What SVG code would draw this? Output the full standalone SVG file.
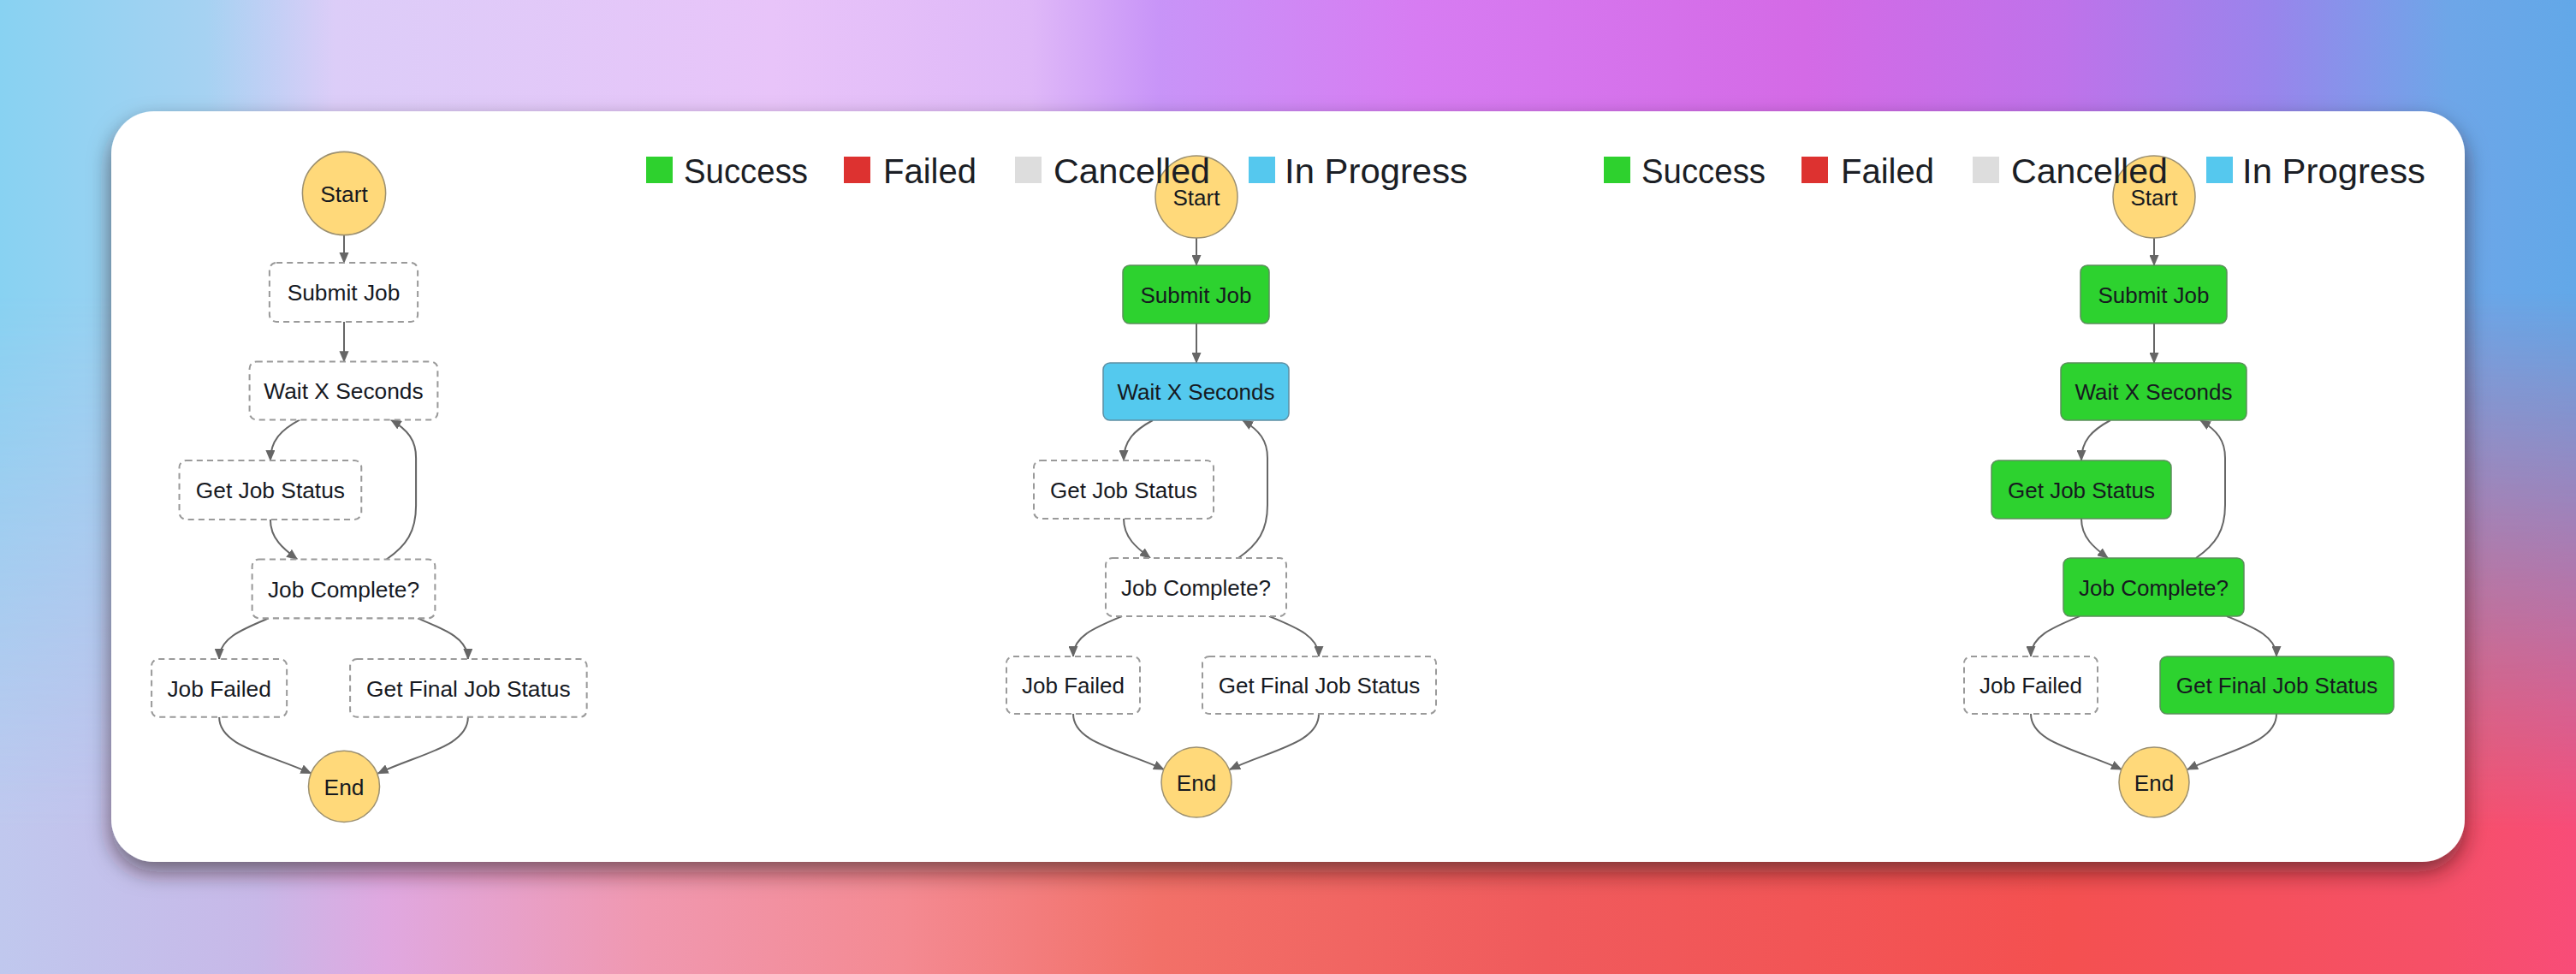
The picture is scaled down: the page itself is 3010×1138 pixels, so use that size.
<svg xmlns="http://www.w3.org/2000/svg" width="3010" height="1138" viewBox="0 0 3010 1138">
<defs>
  <linearGradient id="bgTop" x1="0" y1="0" x2="1" y2="0">
    <stop offset="0" stop-color="#88d2f2"/>
    <stop offset="0.08" stop-color="#a6d2f2"/>
    <stop offset="0.13" stop-color="#dccdf8"/>
    <stop offset="0.3" stop-color="#e8c4f9"/>
    <stop offset="0.4" stop-color="#dfb8f8"/>
    <stop offset="0.45" stop-color="#c894f8"/>
    <stop offset="0.55" stop-color="#d77cf2"/>
    <stop offset="0.7" stop-color="#d46ae6"/>
    <stop offset="0.8" stop-color="#bf72ea"/>
    <stop offset="0.88" stop-color="#9a84ec"/>
    <stop offset="0.95" stop-color="#6ea6e8"/>
    <stop offset="1" stop-color="#62a8e8"/>
  </linearGradient>
  <linearGradient id="bgBot" x1="0" y1="0" x2="1" y2="0">
    <stop offset="0" stop-color="#c0c8ee"/>
    <stop offset="0.1" stop-color="#c8b8e8"/>
    <stop offset="0.15" stop-color="#e0a8e0"/>
    <stop offset="0.25" stop-color="#f098b0"/>
    <stop offset="0.35" stop-color="#f48a92"/>
    <stop offset="0.45" stop-color="#f27068"/>
    <stop offset="0.6" stop-color="#f05a5c"/>
    <stop offset="0.8" stop-color="#f45050"/>
    <stop offset="0.95" stop-color="#f65068"/>
    <stop offset="1" stop-color="#f84c78"/>
  </linearGradient>
  <linearGradient id="fadeV" x1="0" y1="0" x2="0" y2="1">
    <stop offset="0.3" stop-color="#fff" stop-opacity="0"/>
    <stop offset="0.85" stop-color="#fff" stop-opacity="1"/>
  </linearGradient>
  <mask id="botMask">
    <rect x="0" y="0" width="3010" height="1138" fill="url(#fadeV)"/>
  </mask>
  <filter id="shadow" x="-5%" y="-10%" width="110%" height="130%">
    <feDropShadow dx="0" dy="12" stdDeviation="13" flood-color="#2a0a10" flood-opacity="0.55"/>
  </filter>
  <marker id="arr" markerWidth="13" markerHeight="11" refX="12" refY="5.5" orient="auto" markerUnits="userSpaceOnUse">
    <path d="M0,0 L13,5.5 L0,11 z" fill="#666"/>
  </marker>
  <style>
    .dash { fill:#fff; stroke:#9a9a9a; stroke-width:2; stroke-dasharray:7 5; }
    .ok { fill:#2dd22f; stroke:#5b8f5b; stroke-width:1.5; }
    .prog { fill:#54c9ee; stroke:#5e8fa3; stroke-width:1.5; }
    .term { fill:#ffd97a; stroke:#9c9070; stroke-width:1.5; }
    .lbl { font-family:"Liberation Sans",Arial,sans-serif; font-size:26px; fill:#16191f; text-anchor:middle; }
    .edge { fill:none; stroke:#666; stroke-width:2; marker-end:url(#arr); }
    .leg { font-family:"Liberation Sans",Arial,sans-serif; font-size:40px; fill:#1b1e25; }
  </style>
</defs>

<rect x="0" y="0" width="3010" height="1138" fill="url(#bgTop)"/>
<rect x="0" y="0" width="3010" height="1138" fill="url(#bgBot)" mask="url(#botMask)"/>

<rect id="card" x="130" y="130" width="2750" height="877" rx="50" ry="50" fill="#fff" filter="url(#shadow)"/>

<!-- Left graph -->
<g id="graph-left" transform="matrix(1.013 0 0 1.013 -1014.17 -6.99)">
  <g id="left-connectors">
    <path class="edge" d="M1398,278 L1398,310"/>
    <path class="edge" d="M1398,378 L1398,424"/>
    <path class="edge" d="M1347,491 C1325,503 1313,515 1313,538"/>
    <path class="edge" d="M1313,606 C1313,628 1328,640 1344,652"/>
    <path class="edge" d="M1447,652 C1470,636 1481,620 1481,590 L1481,535 C1481,515 1472,503 1452,491"/>
    <path class="edge" d="M1311,720 C1280,733 1254,743 1254,767"/>
    <path class="edge" d="M1483,720 C1514,733 1541,743 1541,767"/>
    <path class="edge" d="M1254,834 C1254,868 1310,876 1360,899"/>
    <path class="edge" d="M1541,834 C1541,868 1486,876 1437,899"/>
  </g>
  <g id="left-start"><circle class="term" cx="1398" cy="230" r="48"/><text class="lbl" x="1398" y="239.5">Start</text></g>
  <g id="left-submit"><rect class="dash" x="1312" y="310" width="171" height="68" rx="8"/><text class="lbl" x="1397.5" y="353.5">Submit Job</text></g>
  <g id="left-wait"><rect class="dash" x="1289" y="424" width="217" height="67" rx="8"/><text class="lbl" x="1397.5" y="467">Wait X Seconds</text></g>
  <g id="left-getstatus"><rect class="dash" x="1208" y="538" width="210" height="68" rx="8"/><text class="lbl" x="1313" y="581.5">Get Job Status</text></g>
  <g id="left-complete"><rect class="dash" x="1292" y="652" width="211" height="68" rx="8"/><text class="lbl" x="1397.5" y="695.5">Job Complete?</text></g>
  <g id="left-failed"><rect class="dash" x="1176" y="767" width="156" height="67" rx="8"/><text class="lbl" x="1254" y="810">Job Failed</text></g>
  <g id="left-final"><rect class="dash" x="1405" y="767" width="273" height="67" rx="8"/><text class="lbl" x="1541.5" y="810">Get Final Job Status</text></g>
  <g id="left-end"><circle class="term" cx="1398" cy="914" r="41"/><text class="lbl" x="1398" y="923.5">End</text></g>
</g>

<!-- Middle graph -->
<g id="graph-middle">
  <g id="mid-connectors">
    <path class="edge" d="M1398,278 L1398,310"/>
    <path class="edge" d="M1398,378 L1398,424"/>
    <path class="edge" d="M1347,491 C1325,503 1313,515 1313,538"/>
    <path class="edge" d="M1313,606 C1313,628 1328,640 1344,652"/>
    <path class="edge" d="M1447,652 C1470,636 1481,620 1481,590 L1481,535 C1481,515 1472,503 1452,491"/>
    <path class="edge" d="M1311,720 C1280,733 1254,743 1254,767"/>
    <path class="edge" d="M1483,720 C1514,733 1541,743 1541,767"/>
    <path class="edge" d="M1254,834 C1254,868 1310,876 1360,899"/>
    <path class="edge" d="M1541,834 C1541,868 1486,876 1437,899"/>
  </g>
  <g id="mid-start"><circle class="term" cx="1398" cy="230" r="48"/><text class="lbl" x="1398" y="239.5">Start</text></g>
  <g id="mid-submit"><rect class="ok" x="1312" y="310" width="171" height="68" rx="8"/><text class="lbl" x="1397.5" y="353.5">Submit Job</text></g>
  <g id="mid-wait"><rect class="prog" x="1289" y="424" width="217" height="67" rx="8"/><text class="lbl" x="1397.5" y="467">Wait X Seconds</text></g>
  <g id="mid-getstatus"><rect class="dash" x="1208" y="538" width="210" height="68" rx="8"/><text class="lbl" x="1313" y="581.5">Get Job Status</text></g>
  <g id="mid-complete"><rect class="dash" x="1292" y="652" width="211" height="68" rx="8"/><text class="lbl" x="1397.5" y="695.5">Job Complete?</text></g>
  <g id="mid-failed"><rect class="dash" x="1176" y="767" width="156" height="67" rx="8"/><text class="lbl" x="1254" y="810">Job Failed</text></g>
  <g id="mid-final"><rect class="dash" x="1405" y="767" width="273" height="67" rx="8"/><text class="lbl" x="1541.5" y="810">Get Final Job Status</text></g>
  <g id="mid-end"><circle class="term" cx="1398" cy="914" r="41"/><text class="lbl" x="1398" y="923.5">End</text></g>
</g>

<!-- Right graph -->
<g id="graph-right" transform="translate(1119,0)">
  <g id="right-connectors">
    <path class="edge" d="M1398,278 L1398,310"/>
    <path class="edge" d="M1398,378 L1398,424"/>
    <path class="edge" d="M1347,491 C1325,503 1313,515 1313,538"/>
    <path class="edge" d="M1313,606 C1313,628 1328,640 1344,652"/>
    <path class="edge" d="M1447,652 C1470,636 1481,620 1481,590 L1481,535 C1481,515 1472,503 1452,491"/>
    <path class="edge" d="M1311,720 C1280,733 1254,743 1254,767"/>
    <path class="edge" d="M1483,720 C1514,733 1541,743 1541,767"/>
    <path class="edge" d="M1254,834 C1254,868 1310,876 1360,899"/>
    <path class="edge" d="M1541,834 C1541,868 1486,876 1437,899"/>
  </g>
  <g id="right-start"><circle class="term" cx="1398" cy="230" r="48"/><text class="lbl" x="1398" y="239.5">Start</text></g>
  <g id="right-submit"><rect class="ok" x="1312" y="310" width="171" height="68" rx="8"/><text class="lbl" x="1397.5" y="353.5">Submit Job</text></g>
  <g id="right-wait"><rect class="ok" x="1289" y="424" width="217" height="67" rx="8"/><text class="lbl" x="1397.5" y="467">Wait X Seconds</text></g>
  <g id="right-getstatus"><rect class="ok" x="1208" y="538" width="210" height="68" rx="8"/><text class="lbl" x="1313" y="581.5">Get Job Status</text></g>
  <g id="right-complete"><rect class="ok" x="1292" y="652" width="211" height="68" rx="8"/><text class="lbl" x="1397.5" y="695.5">Job Complete?</text></g>
  <g id="right-failed"><rect class="dash" x="1176" y="767" width="156" height="67" rx="8"/><text class="lbl" x="1254" y="810">Job Failed</text></g>
  <g id="right-final"><rect class="ok" x="1405" y="767" width="273" height="67" rx="8"/><text class="lbl" x="1541.5" y="810">Get Final Job Status</text></g>
  <g id="right-end"><circle class="term" cx="1398" cy="914" r="41"/><text class="lbl" x="1398" y="923.5">End</text></g>
</g>

<!-- Legends -->
<g id="legend-middle">
  <rect x="755" y="183" width="31" height="31" fill="#2ed12e"/>
  <text class="leg" x="799" y="214" textLength="145" lengthAdjust="spacingAndGlyphs">Success</text>
  <rect x="986" y="183" width="31" height="31" fill="#dd3230"/>
  <text class="leg" x="1032" y="214" textLength="109" lengthAdjust="spacingAndGlyphs">Failed</text>
  <rect x="1186" y="183" width="31" height="31" fill="#dddddd"/>
  <text class="leg" x="1231" y="214" textLength="183" lengthAdjust="spacingAndGlyphs">Cancelled</text>
  <rect x="1459" y="183" width="31" height="31" fill="#55c8ee"/>
  <text class="leg" x="1501" y="214" textLength="214" lengthAdjust="spacingAndGlyphs">In Progress</text>
</g>
<g id="legend-right" transform="translate(1119,0)">
  <rect x="755" y="183" width="31" height="31" fill="#2ed12e"/>
  <text class="leg" x="799" y="214" textLength="145" lengthAdjust="spacingAndGlyphs">Success</text>
  <rect x="986" y="183" width="31" height="31" fill="#dd3230"/>
  <text class="leg" x="1032" y="214" textLength="109" lengthAdjust="spacingAndGlyphs">Failed</text>
  <rect x="1186" y="183" width="31" height="31" fill="#dddddd"/>
  <text class="leg" x="1231" y="214" textLength="183" lengthAdjust="spacingAndGlyphs">Cancelled</text>
  <rect x="1459" y="183" width="31" height="31" fill="#55c8ee"/>
  <text class="leg" x="1501" y="214" textLength="214" lengthAdjust="spacingAndGlyphs">In Progress</text>
</g>
</svg>
